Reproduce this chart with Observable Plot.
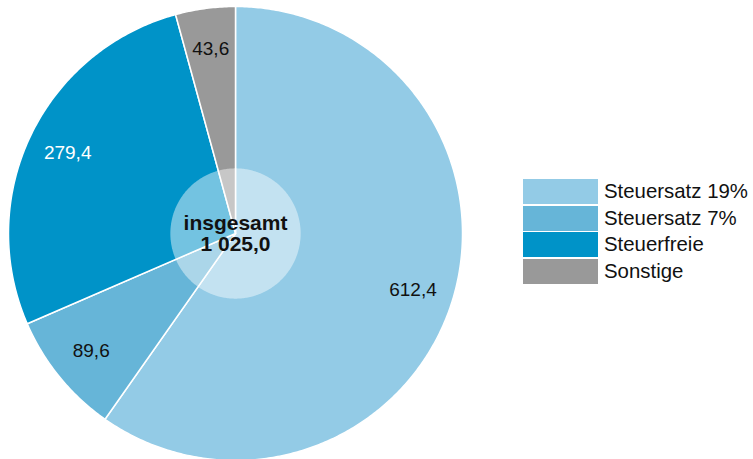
<!DOCTYPE html>
<html>
<head>
<meta charset="utf-8">
<script src="https://cdn.jsdelivr.net/npm/d3@7"></script>
<script src="https://cdn.jsdelivr.net/npm/@observablehq/plot@0.6"></script>
<style>
  body { margin: 0; background: #fff; font-family: "Liberation Sans", Arial, sans-serif; }
  #wrap { position: relative; width: 753px; height: 459px; overflow: hidden; }
  #legend { position: absolute; left: 523px; top: 179px; }
  .item { display: flex; align-items: center; height: 25px; margin-bottom: 1.5px; }
  .sw { width: 75px; height: 25px; margin-right: 6px; }
  .lb { font-size: 20.4px; color: #111; line-height: 25px; }
</style>
</head>
<body>
<div id="wrap"></div>
<script>
const categories = ["Steuersatz 19%", "Steuersatz 7%", "Steuerfreie", "Sonstige"];
const values = [612.4, 89.6, 279.4, 43.6];
const valueLabels = ["612,4", "89,6", "279,4", "43,6"];
const colors = ["#93cbe6", "#66b5d8", "#0093c8", "#999999"];
const labelColors = ["#111111", "#111111", "#ffffff", "#111111"];
const totalLabel = "insgesamt\n1 025,0";

const W = 753, H = 459;
const cx = 235, cy = 233, R = 227;

const arcs = d3.pie().sort(null).value(d => d)(values);

// polygon outline for each slice (unit radius, y up, clockwise from top)
const polys = [];
arcs.forEach((a, i) => {
  polys.push({cat: categories[i], x: 0, y: 0});
  const n = Math.max(2, Math.ceil((a.endAngle - a.startAngle) / 0.01));
  for (let k = 0; k <= n; k++) {
    const t = a.startAngle + (a.endAngle - a.startAngle) * k / n;
    polys.push({cat: categories[i], x: Math.sin(t), y: Math.cos(t)});
  }
  polys.push({cat: categories[i], x: 0, y: 0});
});

const innerR = 0.287;
const inner = d3.range(0, 361).map(d => ({x: innerR * Math.sin(d * Math.PI / 180), y: innerR * Math.cos(d * Math.PI / 180)}));

const labels = arcs.map((a, i) => {
  const m = (a.startAngle + a.endAngle) / 2;
  return {x: 0.82 * Math.sin(m), y: 0.82 * Math.cos(m), text: valueLabels[i], color: labelColors[i]};
});

const chart = Plot.plot({
  width: W, height: H,
  margin: 0,
  x: {domain: [-cx / R, (W - cx) / R], axis: null},
  y: {domain: [-(H - cy) / R, cy / R], axis: null},
  color: {domain: categories, range: colors},
  style: {fontFamily: "'Liberation Sans', Arial, sans-serif", background: "#fff"},
  marks: [
    Plot.line(polys, {x: "x", y: "y", z: "cat", fill: "cat", stroke: "white", strokeWidth: 1.5, strokeLinejoin: "round"}),
    Plot.line(inner, {x: "x", y: "y", fill: "white", fillOpacity: 0.45, stroke: "none"}),
    Plot.text(labels, {x: "x", y: "y", text: "text", fill: "color", fontSize: 19}),
    Plot.text([totalLabel], {x: 0, y: 0, text: d => d, fontSize: 21, fontWeight: "bold", fill: "#111", lineHeight: 1.0})
  ]
});

const wrap = document.getElementById("wrap");
wrap.appendChild(chart);

const legend = document.createElement("div");
legend.id = "legend";
categories.forEach((c, i) => {
  const it = document.createElement("div");
  it.className = "item";
  const sw = document.createElement("div");
  sw.className = "sw";
  sw.style.background = colors[i];
  const lb = document.createElement("span");
  lb.className = "lb";
  lb.textContent = c;
  it.appendChild(sw); it.appendChild(lb);
  legend.appendChild(it);
});
wrap.appendChild(legend);
</script>
</body>
</html>
